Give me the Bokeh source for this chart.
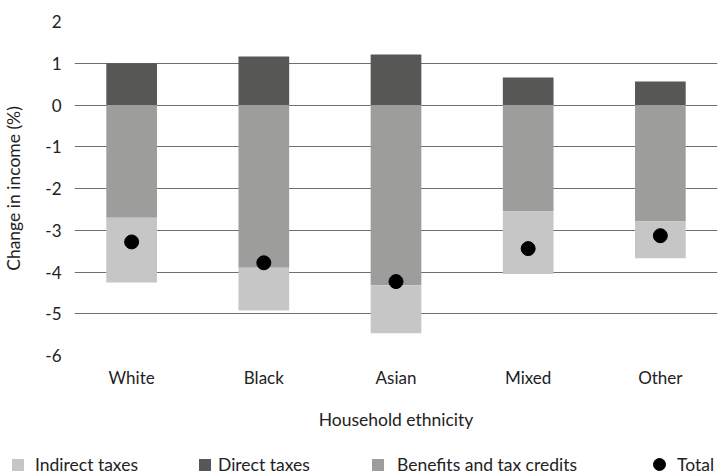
from bokeh.plotting import figure
from bokeh.models import Range1d, FixedTicker, Legend, LegendItem, ColumnDataSource
from bokeh.layouts import column
from bokeh.embed import file_html
from bokeh.resources import INLINE

categories = ["White", "Black", "Asian", "Mixed", "Other"]
direct_taxes = [1.00, 1.16, 1.21, 0.66, 0.56]
benefits = [-2.70, -3.90, -4.32, -2.55, -2.79]
indirect_taxes = [-1.55, -1.02, -1.15, -1.50, -0.88]
total = [-3.28, -3.78, -4.23, -3.44, -3.13]
y_ticks = [-6, -5, -4, -3, -2, -1, 0, 1, 2]
y_tick_labels = ["-6", "-5", "-4", "-3", "-2", "-1", "0", "1", "2"]
legend_labels = ["Indirect taxes", "Direct taxes", "Benefits and tax credits", "Total"]

FONT = "Lato"
TXT = "#222222"
C_IND = "#c6c6c6"
C_DIR = "#575756"
C_BEN = "#9d9d9c"

xs = list(range(1, len(categories) + 1))
src = ColumnDataSource(dict(
    x=xs,
    direct=direct_taxes,
    benefits=benefits,
    ind_bottom=[b + i for b, i in zip(benefits, indirect_taxes)],
    total=total,
    zero=[0] * len(xs),
))

pad = 57.5 / 133.0
bw = 51 / 133.0


def draw_marks(fig):
    r_ben = fig.vbar(x="x", width=bw, top="zero", bottom="benefits", source=src,
                     fill_color=C_BEN, line_color=None)
    r_dir = fig.vbar(x="x", width=bw, top="direct", bottom="zero", source=src,
                     fill_color=C_DIR, line_color=None)
    r_ind = fig.vbar(x="x", width=bw, top="benefits", bottom="ind_bottom", source=src,
                     fill_color=C_IND, line_color=None)
    r_tot = fig.scatter(x="x", y="total", source=src, size=14, marker="circle",
                        fill_color="black", line_color="black")
    return r_ind, r_dir, r_ben, r_tot


p = figure(width=718, height=438, output_backend="svg", toolbar_location=None,
           x_range=Range1d(1 - pad, len(xs) + pad), y_range=Range1d(-6, 2),
           min_border_left=71, min_border_right=1, min_border_top=21, min_border_bottom=83)
p.frame_align = False
p.outline_line_color = None
p.background_fill_color = "white"
p.border_fill_color = "white"
draw_marks(p)

# axes
p.xaxis.ticker = FixedTicker(ticks=xs)
p.xaxis.major_label_overrides = {x: c for x, c in zip(xs, categories)}
p.xaxis.axis_label = "Household ethnicity"
p.yaxis.ticker = FixedTicker(ticks=y_ticks)
p.yaxis.major_label_overrides = {t: s for t, s in zip(y_ticks, y_tick_labels)}
p.yaxis.axis_label = "Change in income (%)"
for ax in (p.xaxis[0], p.yaxis[0]):
    ax.axis_line_color = None
    ax.major_tick_line_color = None
    ax.minor_tick_line_color = None
    ax.major_tick_out = 0
    ax.major_tick_in = 0
    ax.major_label_text_font = FONT
    ax.major_label_text_font_size = "17px"
    ax.major_label_text_color = TXT
    ax.axis_label_text_font = FONT
    ax.axis_label_text_font_size = "17.5px"
    ax.axis_label_text_font_style = "normal"
    ax.axis_label_text_color = TXT
p.xaxis.major_label_standoff = 11
p.xaxis.axis_label_standoff = 18
p.yaxis.major_label_standoff = 13
p.yaxis.axis_label_standoff = 18

p.xgrid.grid_line_color = None
p.ygrid.grid_line_color = "#6f6f6f"
p.ygrid.grid_line_width = 1

# legend strip (marks drawn out of view; only the legends show)
lg = figure(width=718, height=33, output_backend="svg", toolbar_location=None,
            x_range=Range1d(0, 1), y_range=Range1d(100, 101),
            min_border=0, min_border_left=0, min_border_right=0,
            min_border_top=0, min_border_bottom=0)
lg.frame_align = False
lg.axis.visible = False
lg.grid.visible = False
lg.outline_line_color = None
l_renderers = draw_marks(lg)

legend_x = [10, 197, 370, 644]
standoffs = [10, 6, 12, 3]
glyph_sizes = [15, 15, 15, 30]
y_locs = [-4, -4, -4, -8]
for r, lab, lx, so, gs, ly in zip(l_renderers, legend_labels, legend_x, standoffs, glyph_sizes, y_locs):
    leg = Legend(items=[LegendItem(label=lab, renderers=[r])],
                 orientation="horizontal", location=(lx, ly))
    leg.background_fill_alpha = 0
    leg.border_line_color = None
    leg.padding = 0
    leg.margin = 0
    leg.spacing = 0
    leg.glyph_width = gs
    leg.glyph_height = gs
    leg.label_standoff = so
    leg.label_text_font = FONT
    leg.label_text_font_size = "17.5px"
    leg.label_text_color = TXT
    leg.label_height = 16
    lg.add_layout(leg, "center")

open("out.html", "w").write(file_html(column(p, lg, spacing=0), INLINE))
